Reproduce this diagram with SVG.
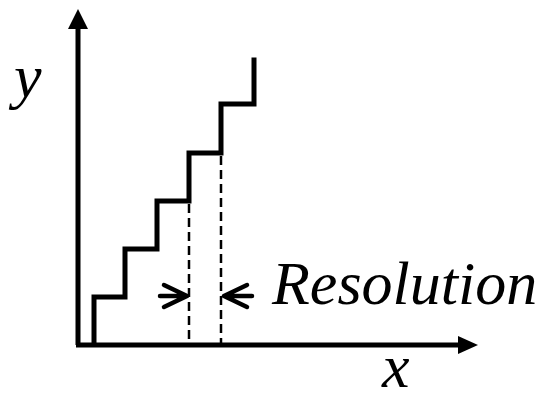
<svg xmlns="http://www.w3.org/2000/svg" width="545" height="402" viewBox="0 0 545 402">
<style>
.ax{stroke:#000;stroke-width:5;fill:none}
.st{stroke:#000;stroke-width:5;fill:none;stroke-linejoin:miter;stroke-linecap:square}
.da{stroke:#000;stroke-width:2.5;stroke-dasharray:9,5;fill:none}
.ar{stroke:#000;stroke-width:4.5;fill:none;stroke-linecap:round;stroke-linejoin:round}
.lb{font-family:'Liberation Serif','Times New Roman','DejaVu Serif',serif;font-style:italic;font-size:62px;fill:#000}
</style>
<rect width="545" height="402" fill="#fff"/>
<g id="axes">
<path class="ax" d="M78,345 V26 M76,345 H460"/>
<polygon points="78,9 68,29 88,29" fill="#000"/>
<polygon points="478,345 458,336 458,354" fill="#000"/>
</g>
<g id="staircase">
<path class="st" d="M94,343 V297 H125 V249 H157 V201 H189 V153 H221 V104 H254 V60"/>
</g>
<g id="guides">
<path class="da" d="M189,204 V345 M221,156 V345"/>
</g>
<g id="connectors">
<path class="ar" d="M160,296 H187 M164,285 L187,296 L164,307"/>
<path class="ar" d="M224,296 H252 M247,285 L224,296 L247,307"/>
</g>
<g id="labels">
<text class="lb" x="14" y="97">y</text>
<text class="lb" x="272" y="304">Resolution</text>
<text class="lb" x="382" y="387">x</text>
</g>
</svg>
